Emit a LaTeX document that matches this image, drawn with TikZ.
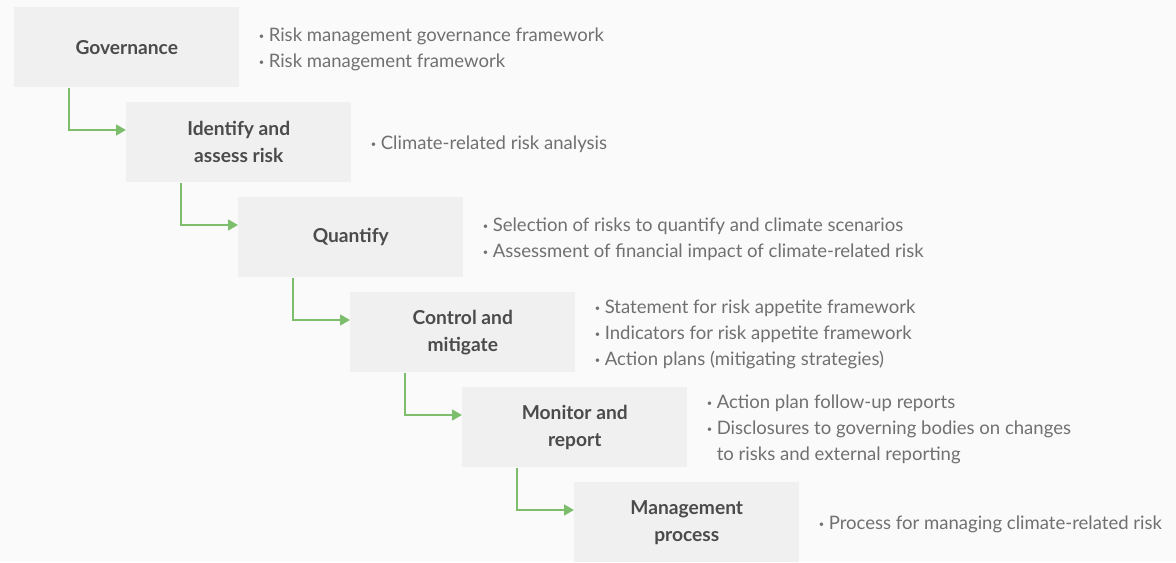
\documentclass[tikz,border=0pt]{standalone}
\usepackage{fontspec}
\setmainfont{Lato}
\usepackage{xcolor}
\usetikzlibrary{arrows.meta}

\definecolor{bgfill}{HTML}{FAFAFA}
\definecolor{stepfill}{HTML}{F0F0F0}
\definecolor{flowgreen}{HTML}{7DBE6C}
\definecolor{labelgray}{HTML}{4B4B4B}
\definecolor{notegray}{HTML}{707070}

\newcommand{\bul}{\makebox[7.5pt][l]{\raisebox{1.6pt}{\fontsize{7}{7}\selectfont •}}}

\begin{document}
\begin{tikzpicture}[x=0.75pt,y=-0.75pt,
    stepbox/.style={fill=stepfill, minimum width=168.75pt, minimum height=60pt,
      inner sep=0pt, anchor=north west, align=center, text=labelgray,
      font=\fontsize{14.4}{20.25}\selectfont\bfseries},
    note/.style={anchor=west, align=left, inner sep=0pt, text=notegray,
      font=\fontsize{13.9}{19.5}\selectfont},
    flow/.style={draw=flowgreen, line width=2pt,
      -{Triangle[length=7.5pt, width=8pt]}}]

  \fill[bgfill] (0,0) rectangle (1176,561);

  \foreach \lab [count=\i from 0] in {Governance, {Identify and\\assess risk},
      Quantify, {Control and\\mitigate}, {Monitor and\\report}, {Management\\process}}{%
    \node[stepbox] (b\i) at (14+112*\i, 7+95*\i) {\lab};
  }

  \node[note] (t0) at ([xshift=14.25pt,yshift=-1.5pt]b0.east)
    {\bul Risk management governance framework\\\bul Risk management framework};
  \node[note] (t1) at ([xshift=14.25pt,yshift=-1.5pt]b1.east)
    {\bul Climate-related risk analysis};
  \node[note] (t2) at ([xshift=14.25pt,yshift=-1.5pt]b2.east)
    {\bul Selection of risks to quantify and climate scenarios\\
     \bul Assessment of financial impact of climate-related risk};
  \node[note] (t3) at ([xshift=14.25pt,yshift=-1.5pt]b3.east)
    {\bul Statement for risk appetite framework\\
     \bul Indicators for risk appetite framework\\
     \bul Action plans (mitigating strategies)};
  \node[note] (t4) at ([xshift=14.25pt,yshift=-1.5pt]b4.east)
    {\bul Action plan follow-up reports\\
     \bul Disclosures to governing bodies on changes\\
     \hphantom{\bul}to risks and external reporting};
  \node[note] (t5) at ([xshift=14.25pt,yshift=-1.5pt]b5.east)
    {\bul Process for managing climate-related risk};

  \foreach \i [evaluate=\i as \j using int(\i+1)] in {0,...,4}{%
    \draw[flow] ([xshift=41.25pt]b\i.south west) |- ([yshift=-21pt]b\j.north west);
  }
\end{tikzpicture}
\end{document}
